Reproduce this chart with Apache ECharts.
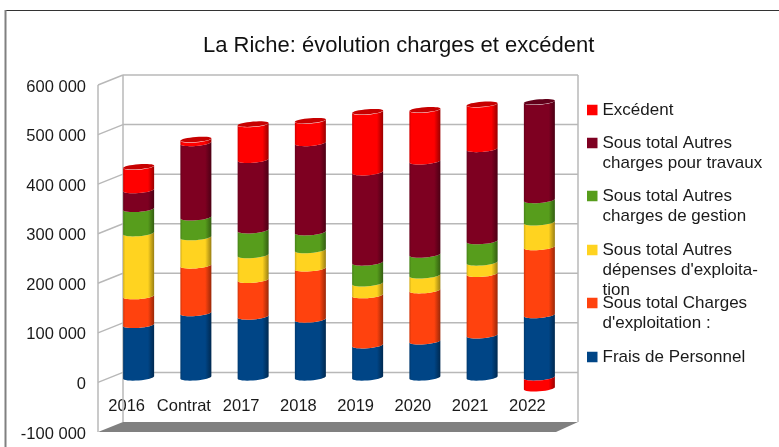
<!DOCTYPE html>
<html>
<head>
<meta charset="utf-8">
<style>
  html, body { margin: 0; padding: 0; background: #fff; }
  #chart { width: 779px; height: 447px; }
</style>
<script src="https://cdn.jsdelivr.net/npm/echarts@6/dist/echarts.min.js"></script>
</head>
<body>
<div id="chart"></div>
<script>
'use strict';

var categories = ['2016', 'Contrat', '2017', '2018', '2019', '2020', '2021', '2022'];
var yTicks = [-100000, 0, 100000, 200000, 300000, 400000, 500000, 600000];

var frais = [106000, 130000, 123000, 117000, 65000, 73000, 85000, 126000];
var chargesExpl = [58000, 96000, 74000, 103000, 101000, 103000, 124000, 137000];
var autresDepenses = [127000, 57000, 50000, 37000, 24000, 30000, 23000, 50000];
var autresGestion = [49000, 40000, 50000, 36000, 42000, 42000, 43000, 45000];
var autresTravaux = [38000, 150000, 142000, 180000, 182000, 188000, 186000, 198000];
var excedent = [47000, 7000, 72000, 45000, 122000, 104000, 90000, -22000];

// bottom of the stack first
var stackSeries = [
  {name: 'Frais de Personnel', values: frais, color: '#004586'},
  {name: "Sous total Charges d'exploitation :", values: chargesExpl, color: '#ff420e'},
  {name: "Sous total Autres dépenses d'exploitation", values: autresDepenses, color: '#ffd320'},
  {name: 'Sous total Autres charges de gestion', values: autresGestion, color: '#579d1c'},
  {name: 'Sous total Autres charges pour travaux', values: autresTravaux, color: '#7e0021'},
  {name: 'Excédent', values: excedent, color: '#ff0000'}
];

// legend: label as wrapped in the picture, and top of each entry
var legendRows = [
  {name: 'Excédent', label: 'Excédent', lines: 1, top: 100},
  {name: 'Sous total Autres charges pour travaux', label: 'Sous total Autres\ncharges pour travaux', lines: 2, top: 133},
  {name: 'Sous total Autres charges de gestion', label: 'Sous total Autres\ncharges de gestion', lines: 2, top: 186},
  {name: "Sous total Autres dépenses d'exploitation", label: "Sous total Autres\ndépenses d'exploita-\ntion", lines: 3, top: 240},
  {name: "Sous total Charges d'exploitation :", label: "Sous total Charges\nd'exploitation :", lines: 2, top: 293},
  {name: 'Frais de Personnel', label: 'Frais de Personnel', lines: 1, top: 347}
];

var FONT = '"Liberation Sans", Arial, sans-serif';
var WALL_DX = 25, WALL_DY = -10;   // back wall relative to the front plane
var BAR_DX = 12, BAR_DY = -5;      // bars stand half way
var BAR_W = 31, ARC_RY = 3, CAP_RY = 2.5, TILT = 1.2;

var myChart = echarts.init(document.getElementById('chart'), null, {renderer: 'canvas'});

function shade(hex, k) {
  var n = parseInt(hex.slice(1), 16);
  var r = Math.round((n >> 16) * k), g = Math.round(((n >> 8) & 255) * k), b = Math.round((n & 255) * k);
  return 'rgb(' + r + ',' + g + ',' + b + ')';
}

// points of the lower half of a slightly tilted ellipse, left to right
function arc(cx, y, reverse) {
  var pts = [];
  for (var i = 0; i <= 16; i++) {
    var t = Math.PI - (Math.PI * i) / 16;
    var ex = Math.cos(t);
    pts.push([cx + ex * BAR_W / 2, y + Math.sin(t) * ARC_RY - ex * TILT]);
  }
  return reverse ? pts.reverse() : pts;
}

function capPoints(cx, y) {
  var pts = [];
  for (var i = 0; i < 32; i++) {
    var t = (Math.PI * 2 * i) / 32;
    var ex = Math.cos(t);
    pts.push([cx + ex * BAR_W / 2, y + Math.sin(t) * CAP_RY - ex * TILT]);
  }
  return pts;
}

function renderCylinder(color) {
  return function (params, api) {
    var low = api.coord([api.value(0), api.value(1)]);
    var high = api.coord([api.value(0), api.value(2)]);
    var cx = low[0] + BAR_DX;
    var body = arc(cx, low[1] + BAR_DY, false).concat(arc(cx, high[1] + BAR_DY, true));
    var children = [{
      type: 'polygon',
      shape: {points: body},
      style: {
        fill: new echarts.graphic.LinearGradient(0, 0, 1, 0, [
          {offset: 0, color: shade(color, 0.82)},
          {offset: 0.07, color: color},
          {offset: 0.8, color: color},
          {offset: 1, color: shade(color, 0.6)}
        ])
      }
    }];
    if (api.value(3)) {
      children.push({
        type: 'polygon',
        shape: {points: capPoints(cx, high[1] + BAR_DY)},
        style: {fill: shade(color, 0.78)}
      });
    }
    return {type: 'group', children: children};
  };
}

function renderWalls(params, api) {
  var cs = params.coordSys;
  var tick = api.value(0);
  var y = api.coord([0, tick])[1];
  var left = cs.x, right = cs.x + cs.width;
  var lineStyle = {stroke: '#b8b8b8', lineWidth: 1.5};
  var children = [];
  if (tick === yTicks[0]) {
    var topY = api.coord([0, yTicks[yTicks.length - 1]])[1];
    children.push({
      type: 'polygon',
      shape: {points: [[left, y], [left + WALL_DX, y + WALL_DY], [right + WALL_DX - 3, y + WALL_DY], [right, y]]},
      style: {fill: '#808080'}
    });
    children.push({type: 'line', shape: {x1: left, y1: topY, x2: left, y2: y}, style: lineStyle});
    children.push({type: 'line', shape: {x1: left + WALL_DX, y1: topY + WALL_DY, x2: left + WALL_DX, y2: y + WALL_DY}, style: lineStyle});
    children.push({type: 'line', shape: {x1: right + WALL_DX - 3, y1: topY + WALL_DY, x2: right + WALL_DX - 3, y2: y + WALL_DY}, style: lineStyle});
  } else {
    children.push({type: 'line', shape: {x1: left, y1: y, x2: left + WALL_DX, y2: y + WALL_DY}, style: lineStyle});
    children.push({type: 'line', shape: {x1: left + WALL_DX, y1: y + WALL_DY, x2: right + WALL_DX - 3, y2: y + WALL_DY}, style: lineStyle});
  }
  return {type: 'group', children: children};
}

// cumulated [category, from, to, isTop] per series
var running = categories.map(function () { return 0; });
var stackTops = categories.map(function (c, i) {
  return stackSeries.reduce(function (sum, s) { return sum + Math.max(s.values[i], 0); }, 0);
});

var series = [{
  type: 'custom',
  name: 'walls',
  silent: true,
  clip: false,
  z: 1,
  renderItem: renderWalls,
  encode: {y: 0},
  data: yTicks.map(function (t) { return [t]; })
}];

stackSeries.forEach(function (s) {
  var data = s.values.map(function (v, i) {
    if (v < 0) {
      return [i, v, 0, 0];
    }
    var from = running[i];
    running[i] += v;
    return [i, from, running[i], running[i] === stackTops[i] ? 1 : 0];
  });
  series.push({
    type: 'custom',
    name: s.name,
    clip: false,
    z: 3,
    itemStyle: {color: s.color},
    renderItem: renderCylinder(s.color),
    encode: {x: 0, y: [1, 2]},
    data: data
  });
});

var legends = legendRows.map(function (row) {
  var h = row.lines * 20;
  return {
    show: true,
    left: 587,
    top: row.top,
    padding: 0,
    selectedMode: false,
    itemWidth: 10.5,
    itemHeight: h,
    itemGap: 0,
    // square stays on the first line, the tiny marks hold the box height
    icon: 'path://M0 0h0.01v0.01h-0.01zM0 ' + (h - 0.01) + 'h0.01v0.01h-0.01zM0 4.7h10.5v10.5h-10.5z',
    data: [{name: row.name}],
    formatter: function () { return row.label; },
    textStyle: {fontFamily: FONT, fontSize: 17, color: '#1a1a1a', lineHeight: 20}
  };
});

var option = {
  animation: false,
  backgroundColor: '#ffffff',
  textStyle: {fontFamily: FONT},
  title: {
    text: 'La Riche: évolution charges et excédent',
    left: 203,
    top: 35,
    padding: 0,
    textStyle: {fontFamily: FONT, fontSize: 22, fontWeight: 'normal', color: '#111111'}
  },
  legend: legends,
  tooltip: {show: false},
  grid: {left: 98, top: 85, width: 458, height: 347, outerBoundsMode: 'none'},
  xAxis: {
    type: 'category',
    data: categories,
    axisLine: {show: false},
    axisTick: {show: false},
    splitLine: {show: false},
    // the labels sit just under the zero line, inside the plot
    axisLabel: {interval: 0, margin: -34, fontFamily: FONT, fontSize: 16.5, color: '#1a1a1a'}
  },
  yAxis: {
    type: 'value',
    min: -100000,
    max: 600000,
    interval: 100000,
    axisLine: {show: false},
    axisTick: {show: false},
    splitLine: {show: false},
    axisLabel: {
      margin: 12,
      fontFamily: FONT,
      fontSize: 16.5,
      color: '#1a1a1a',
      formatter: function (v) {
        return '{v|' + String(v).replace(/\B(?=(\d{3})+(?!\d))/g, ' ') + '}';
      },
      rich: {
        v: {fontFamily: FONT, fontSize: 16.5, color: '#1a1a1a', padding: [4, 0, 0, 0]}
      }
    }
  },
  graphic: [
    {type: 'line', z: 10, shape: {x1: 5, y1: 10.5, x2: 779, y2: 10.5}, style: {stroke: '#333333', lineWidth: 1}},
    {type: 'line', z: 10, shape: {x1: 5.5, y1: 10, x2: 5.5, y2: 447}, style: {stroke: '#808080', lineWidth: 2}}
  ],
  series: series
};

myChart.setOption(option);
</script>
</body>
</html>
